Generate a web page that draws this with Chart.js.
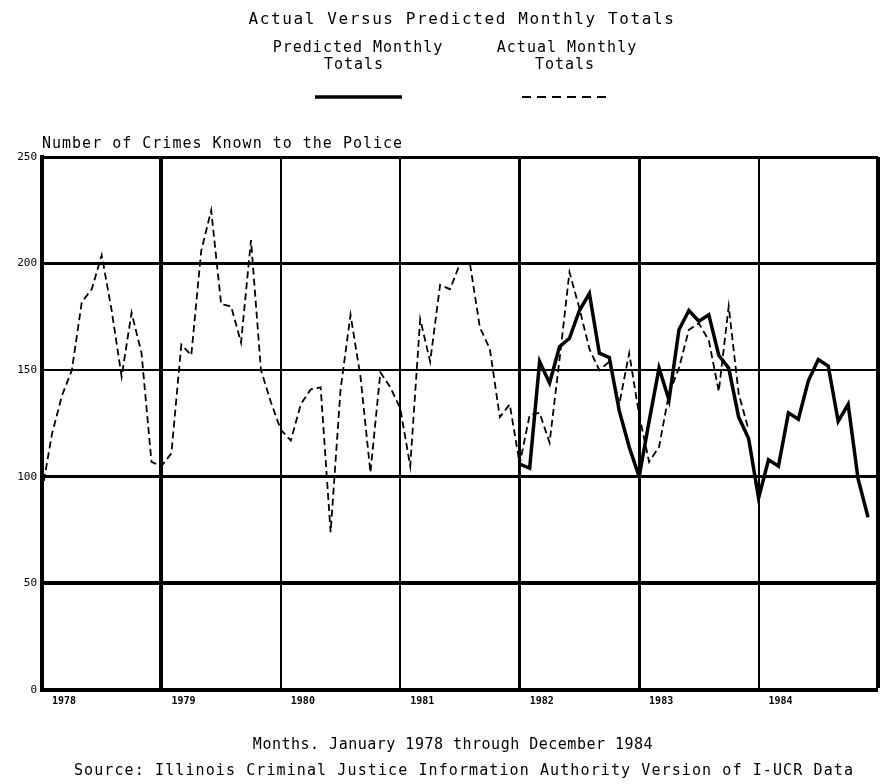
<!DOCTYPE html>
<html>
<head>
<meta charset="utf-8">
<script src="https://cdn.jsdelivr.net/npm/chart.js@4"></script>
<style>
  html, body { margin: 0; padding: 0; background: #fff; }
  #wrap { width: 883px; height: 784px; position: relative; }
</style>
</head>
<body>
<div id="wrap"><canvas id="crimeChart"></canvas></div>
<script>
// Year labels shown under the x axis (one per 12 months)
const years = ['1978', '1979', '1980', '1981', '1982', '1983', '1984'];

// Actual monthly totals, Jan 1978 - Dec 1983 (dashed line)
const actual = [
    93, 120, 138, 150, 182, 188, 204, 178, 147, 177, 158, 107,   // 1978
    105, 111, 162, 157, 206, 225, 181, 180, 163, 211, 150, 135,  // 1979
    122, 117, 134, 141, 142, 74, 141, 176, 147, 102, 149, 142,   // 1980
    132, 105, 174, 154, 190, 188, 200, 200, 170, 160, 128, 134,  // 1981
    106, 129, 130, 116, 155, 196, 179, 160, 150, 154, 134, 158,  // 1982
    129, 107, 114, 139, 151, 169, 172, 164, 140, 180, 139, 122   // 1983
];

// Predicted monthly totals, Jan 1982 - Dec 1984 (solid line)
const predictedStart = 48; // month index of Jan 1982
const predicted = [
    106, 104, 154, 144, 161, 165, 178, 186, 158, 156, 131, 114,  // 1982
    100, 126, 151, 136, 169, 178, 173, 176, 157, 151, 128, 118,  // 1983
    90, 108, 105, 130, 127, 145, 155, 152, 126, 134, 99, 81      // 1984
];

const titleText = 'Actual Versus Predicted Monthly Totals';
const yTitle = 'Number of Crimes Known to the Police';
const footerLines = [
    'Months. January 1978 through December 1984',
    'Source: Illinois Criminal Justice Information Authority Version of I-UCR Data'
];

const MONO = '"DejaVu Sans Mono", "Liberation Mono", monospace';

// grid line weights (heavier at some lines)
const yGridWidth = { 0: 0, 50: 4, 100: 3, 150: 2, 200: 3, 250: 3 };
const xGridWidth = { 0: 0, 12: 4, 24: 2, 36: 2, 48: 3, 60: 3, 72: 2, 84: 4 };

// Draws title, two-line legend, y title and the captions
const textPlugin = {
    id: 'scanText',
    afterDraw(chart) {
        const ctx = chart.ctx;
        const area = chart.chartArea;
        ctx.save();
        ctx.fillStyle = '#000';
        ctx.textBaseline = 'middle';

        ctx.font = '16px ' + MONO;
        ctx.letterSpacing = '1.6px';
        ctx.textAlign = 'center';
        ctx.fillText(titleText, 462, 20);

        ctx.font = '15px ' + MONO;
        ctx.letterSpacing = '1px';
        ctx.fillText('Predicted Monthly', 358, 48);
        ctx.fillText('Totals', 354, 65);
        ctx.fillText('Actual Monthly', 567, 48);
        ctx.fillText('Totals', 565, 65);

        // legend samples
        ctx.strokeStyle = '#000';
        ctx.lineWidth = 3.5;
        ctx.beginPath();
        ctx.moveTo(315, 97);
        ctx.lineTo(402, 97);
        ctx.stroke();
        ctx.lineWidth = 2;
        ctx.setLineDash([9, 6]);
        ctx.beginPath();
        ctx.moveTo(522, 97);
        ctx.lineTo(610, 97);
        ctx.stroke();
        ctx.setLineDash([]);

        ctx.textAlign = 'left';
        ctx.letterSpacing = '1px';
        ctx.fillText(yTitle, area.left, area.top - 13);

        ctx.textAlign = 'center';
        ctx.letterSpacing = '0.5px';
        ctx.fillText(footerLines[0], 453, 745);
        ctx.letterSpacing = '1.1px';
        ctx.fillText(footerLines[1], 464, 771);
        ctx.restore();
    }
};

const ctx = document.getElementById('crimeChart').getContext('2d');
new Chart(ctx, {
    type: 'line',
    data: {
        datasets: [{
            label: 'Predicted Monthly Totals',
            data: predicted.map((v, i) => ({ x: predictedStart + i, y: v })),
            borderColor: '#000',
            borderWidth: 3.5,
            pointRadius: 0,
            tension: 0,
            fill: false
        }, {
            label: 'Actual Monthly Totals',
            data: actual.map((v, i) => ({ x: i, y: v })),
            borderColor: '#000',
            borderWidth: 1.8,
            borderDash: [7, 4],
            pointRadius: 0,
            tension: 0,
            fill: false
        }]
    },
    options: {
        responsive: true,
        maintainAspectRatio: false,
        animation: false,
        layout: { padding: { top: 157, right: 5, bottom: 0, left: 0 } },
        plugins: {
            legend: { display: false },
            title: { display: false },
            tooltip: { enabled: false }
        },
        scales: {
            x: {
                type: 'linear',
                min: 0,
                max: 84,
                afterFit: (scale) => { scale.height = 94; },
                afterBuildTicks: (scale) => {
                    scale.ticks = years.map((y, i) => ({ value: i * 12 })).concat([{ value: 84 }]);
                },
                ticks: {
                    color: '#000',
                    font: { family: MONO, size: 10, weight: 'bold' },
                    padding: 5,
                    labelOffset: 22,
                    maxRotation: 0,
                    autoSkip: false,
                    callback: (value) => years[value / 12] || ''
                },
                grid: {
                    color: '#000',
                    drawTicks: false,
                    lineWidth: (c) => xGridWidth[c.tick ? c.tick.value : 0] ?? 2
                },
                border: { display: true, color: '#000', width: 4 }
            },
            y: {
                min: 0,
                max: 250,
                afterFit: (scale) => { scale.width = 42; },
                ticks: {
                    stepSize: 50,
                    color: '#000',
                    font: { family: MONO, size: 11 },
                    padding: 5
                },
                grid: {
                    color: '#000',
                    drawTicks: false,
                    lineWidth: (c) => yGridWidth[c.tick ? c.tick.value : 0] ?? 2
                },
                border: { display: true, color: '#000', width: 4 }
            }
        }
    },
    plugins: [textPlugin]
});
</script>
</body>
</html>
